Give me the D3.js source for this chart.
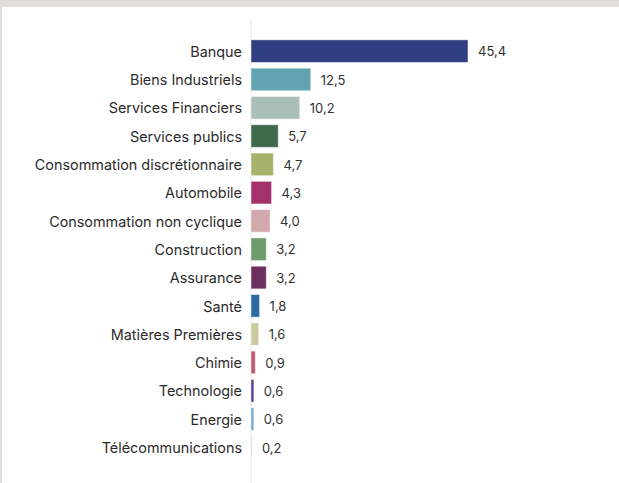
<!DOCTYPE html>
<html>
<head>
<meta charset="utf-8">
<script src="https://cdn.jsdelivr.net/npm/d3@7"></script>
<style>
  html, body { margin: 0; padding: 0; background: #ffffff; }
  #chart { width: 619px; height: 483px; }
</style>
</head>
<body>
<div id="chart"></div>
<script>
const categories = [
  'Banque', 'Biens Industriels', 'Services Financiers', 'Services publics',
  'Consommation discrétionnaire', 'Automobile', 'Consommation non cyclique',
  'Construction', 'Assurance', 'Santé', 'Matières Premières', 'Chimie',
  'Technologie', 'Energie', 'Télécommunications'
];
const values = [45.4, 12.5, 10.2, 5.7, 4.7, 4.3, 4.0, 3.2, 3.2, 1.8, 1.6, 0.9, 0.6, 0.6, 0.2];
const colors = [
  '#2e3e80', '#5fa4b0', '#aabfb8', '#3f6a4a', '#a5b46a', '#a5306a', '#d4a9ad',
  '#6c9b6c', '#6d2f5f', '#2b6aa2', '#c9cb9f', '#c15a72', '#5b3b94', '#6fa8da', '#ebbba3'
];

const W = 619, H = 483;
const cfg = {
  margin: { top: 37, left: 251 },
  step: 28.3,
  plotW: 217 / 45.4 * 50
};

const svg = d3.select('#chart')
  .append('svg')
  .attr('width', W)
  .attr('height', H);

// frame strips
svg.append('rect').attr('x', 0).attr('y', 0).attr('width', W).attr('height', 7).attr('fill', '#e3ded9');
svg.append('rect').attr('x', 0).attr('y', 0).attr('width', 2).attr('height', H).attr('fill', '#e3ded9');

const x = d3.scaleLinear()
  .domain([0, 50])
  .range([cfg.margin.left, cfg.margin.left + cfg.plotW]);

const y = d3.scaleBand()
  .domain(categories)
  .range([cfg.margin.top, cfg.margin.top + cfg.step * categories.length])
  .paddingInner(0.2)
  .paddingOuter(0.1);

// axis line
svg.append('line')
  .attr('x1', x(0)).attr('x2', x(0))
  .attr('y1', 19).attr('y2', H)
  .attr('stroke', '#e6e6e6')
  .attr('stroke-width', 1);

const data = categories.map((c, i) => ({ c, v: values[i], col: colors[i] }));

svg.selectAll('.bar')
  .data(data)
  .enter()
  .append('rect')
  .attr('class', 'bar')
  .attr('x', x(0))
  .attr('y', d => y(d.c))
  .attr('width', d => x(d.v) - x(0))
  .attr('height', y.bandwidth())
  .attr('fill', d => d.col)
  .attr('stroke', '#ffffff')
  .attr('stroke-opacity', 0.5)
  .attr('stroke-width', 1);

svg.selectAll('.cat')
  .data(data)
  .enter()
  .append('text')
  .attr('class', 'cat')
  .attr('x', 242)
  .attr('y', d => y(d.c) + y.bandwidth() / 2 + 0.5)
  .attr('dy', '0.36em')
  .attr('text-anchor', 'end')
  .attr('font-family', 'Inter, Liberation Sans, sans-serif')
  .attr('font-size', 14.4)
  .attr('fill', '#2b2b2b')
  .text(d => d.c);

svg.selectAll('.val')
  .data(data)
  .enter()
  .append('text')
  .attr('class', 'val')
  .attr('x', d => x(d.v) + 10)
  .attr('y', d => y(d.c) + y.bandwidth() / 2 + 0.5)
  .attr('dy', '0.36em')
  .attr('font-family', 'Inter, Liberation Sans, sans-serif')
  .attr('font-size', 13)
  .attr('fill', '#333333')
  .text(d => d3.format('.1f')(d.v).replace('.', ','));
</script>
</body>
</html>
